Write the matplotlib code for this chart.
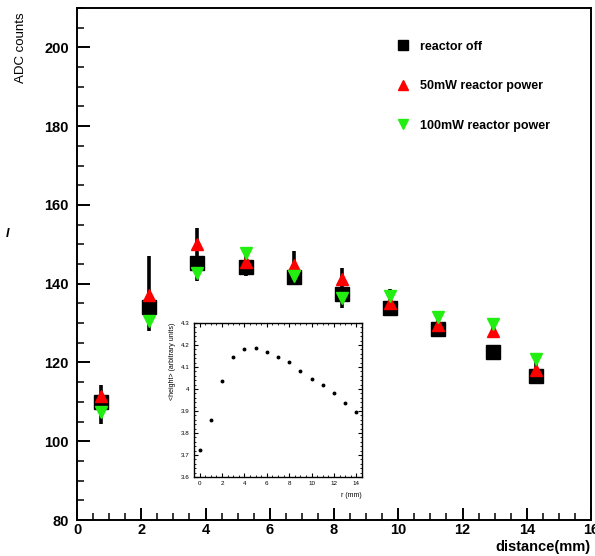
import matplotlib
matplotlib.use("Agg")
import matplotlib.pyplot as plt
from matplotlib.ticker import MultipleLocator
from matplotlib.lines import Line2D

plt.rcParams['font.family'] = ['Liberation Sans', 'DejaVu Sans']

# ---- main data ----
distance = [0.75, 2.25, 3.75, 5.25, 6.75, 8.25, 9.75, 11.25, 12.95, 14.3]
reactor_off = [109.9, 134.0, 145.2, 144.3, 141.7, 137.4, 133.9, 128.4, 122.6, 116.5]
power_50mW = [111.5, 137.2, 150.0, 145.4, 144.7, 141.1, 135.0, 129.4, 127.9, 118.0]
power_100mW = [107.5, 130.5, 142.8, 147.7, 142.0, 136.4, 137.0, 131.6, 129.8, 120.8]
err_low = [104.3, 127.9, 140.7, 142.0, 140.3, 133.9, 134.0, 128.0, 126.6, 116.0]
err_high = [114.3, 147.0, 154.1, 149.0, 148.2, 144.1, 138.7, 132.4, 129.0, 122.5]

labels = ['reactor off', '50mW reactor power', '100mW reactor power']

# ---- inset data ----
r_mm = list(range(15))
signal = [3.721, 3.861, 4.037, 4.144, 4.180, 4.186, 4.168, 4.147, 4.122,
          4.084, 4.047, 4.017, 3.983, 3.938, 3.895]

fig = plt.figure(figsize=(5.95, 5.56), dpi=100)
ax = fig.add_axes([77/595, 1-520/556, (591-77)/595, (520-8)/556])

ax.vlines(distance, err_low, err_high, colors='black', linewidth=2.6, zorder=2)
ax.plot(distance, reactor_off, linestyle='none', marker='s', color='black',
        markersize=9.5, zorder=3)
ax.plot(distance, power_50mW, linestyle='none', marker='^', color='#ff0000',
        markersize=8.5, zorder=4)
ax.plot(distance, power_100mW, linestyle='none', marker='v', color='#22ee11',
        markersize=8.5, zorder=5)

ax.set_xlim(0, 16)
ax.set_ylim(80, 210)
ax.xaxis.set_major_locator(MultipleLocator(2))
ax.xaxis.set_minor_locator(MultipleLocator(0.5))
ax.yaxis.set_major_locator(MultipleLocator(20))
ax.yaxis.set_minor_locator(MultipleLocator(5))
ax.tick_params(axis='both', which='major', direction='in', length=9, width=1.4,
               labelsize=10.5, top=False, right=False)
ax.tick_params(axis='both', which='minor', direction='in', length=5, width=1.1,
               top=False, right=False)
ax.tick_params(axis='x', which='major', pad=2)
ax.tick_params(axis='y', which='major', pad=6)
for lab in ax.get_xticklabels() + ax.get_yticklabels():
    lab.set_fontweight('bold')
for sp in ax.spines.values():
    sp.set_linewidth(1.4)

# legend
handles = [Line2D([], [], linestyle='none', marker='s', color='black', markersize=7),
           Line2D([], [], linestyle='none', marker='^', color='#ff0000', markersize=7),
           Line2D([], [], linestyle='none', marker='v', color='#22ee11', markersize=7)]
leg = ax.legend(handles, labels, loc='upper left', bbox_to_anchor=(0.6, 0.958),
                frameon=False, labelspacing=2.2, handlelength=1.0, handletextpad=0.9,
                prop={'size': 9, 'weight': 'bold'})

fig.text(21/595, 1-48/556, 'ADC counts', rotation=90, ha='center', va='center',
         fontsize=9.5)
fig.text(590/595, 1-547/556, 'distance(mm)', ha='right', va='center',
         fontsize=10.5, fontweight='bold')
fig.text(8/595, 1-234/556, 'I', ha='center', va='center', fontsize=9,
         fontweight='bold', style='italic')

# inset
axi = fig.add_axes([194/595, 1-477/556, (362-194)/595, (477-323)/556])
axi.plot(r_mm, signal, linestyle='none', marker='o', color='black', markersize=1.8)
axi.set_xlim(-0.5, 14.5)
axi.set_ylim(3.6, 4.3)
axi.xaxis.set_major_locator(MultipleLocator(2))
axi.xaxis.set_minor_locator(MultipleLocator(0.5))
axi.yaxis.set_major_locator(MultipleLocator(0.1))
axi.yaxis.set_minor_locator(MultipleLocator(0.02))
axi.set_yticks([3.6, 3.7, 3.8, 3.9, 4.0, 4.1, 4.2, 4.3])
axi.set_yticklabels(['3.6', '3.7', '3.8', '3.9', '4', '4.1', '4.2', '4.3'])
axi.tick_params(axis='both', which='major', direction='in', length=3, width=0.8,
                labelsize=4.5, top=True, right=True, pad=3)
axi.tick_params(axis='both', which='minor', direction='in', length=1.6, width=0.6,
                top=True, right=True)
for sp in axi.spines.values():
    sp.set_linewidth(1.0)
axi.set_xlabel('r (mm)', fontsize=5, loc='right', labelpad=4)
axi.set_ylabel('<height> (arbitrary units)', fontsize=5, loc='top', labelpad=4)

fig.savefig('out.png', dpi=100)
